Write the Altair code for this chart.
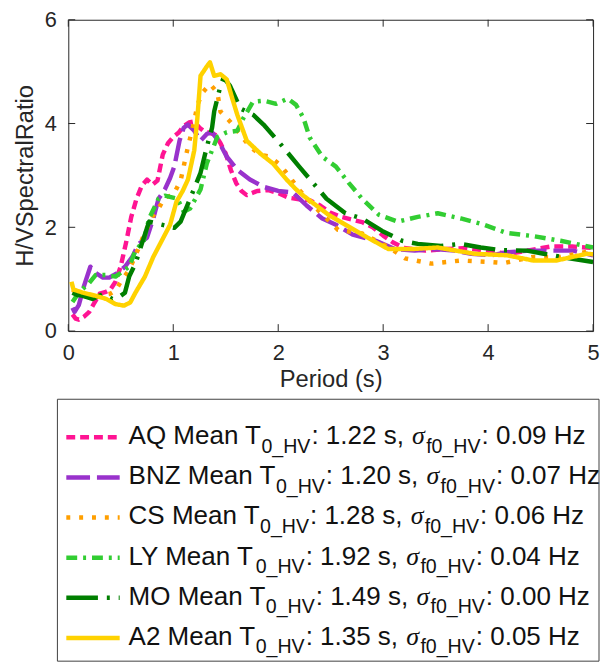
import altair as alt
import pandas as pd

# ---------------- data ----------------
names = ["AQ", "BNZ", "CS", "LY", "MO", "A2"]
colors = ["#FF1493", "#9932CC", "#FF9F00", "#32CD32", "#007F00", "#FFD200"]
dashes = [[9, 5], [24, 7], [4, 9], [11, 6, 3, 6], [32, 9, 3, 9], [1, 0]]
mean_t0 = ["1.22", "1.20", "1.28", "1.92", "1.49", "1.35"]
sigma_f0 = ["0.09", "0.07", "0.06", "0.04", "0.00", "0.05"]

x_ticks = [0, 1, 2, 3, 4, 5]
y_ticks = [0, 2, 4, 6]

aq_period = [0.04, 0.07, 0.1, 0.15, 0.2, 0.25, 0.3, 0.35, 0.4, 0.45, 0.5, 0.55, 0.6, 0.65, 0.7,
             0.75, 0.8, 0.85, 0.9, 0.95, 1.0, 1.05, 1.1, 1.15, 1.2, 1.25, 1.3, 1.35, 1.4, 1.45,
             1.5, 1.55, 1.6, 1.65, 1.7, 1.8, 1.9, 2.0, 2.1, 2.2, 2.3, 2.4, 2.5, 2.6, 2.7, 2.8,
             2.9, 3.0, 3.1, 3.2, 3.4, 3.6, 3.8, 4.0, 4.2, 4.4, 4.6, 4.8, 5.0]
aq_hv = [0.32, 0.24, 0.22, 0.28, 0.37, 0.55, 0.72, 0.75, 0.8, 0.95, 1.25, 1.7, 2.2, 2.55, 2.8,
         2.92, 2.82, 2.9, 3.4, 3.62, 3.74, 3.82, 3.95, 4.02, 4.04, 3.92, 3.84, 3.82, 3.78, 3.62,
         3.42, 3.1, 2.85, 2.7, 2.62, 2.7, 2.72, 2.66, 2.57, 2.54, 2.52, 2.42, 2.28, 2.2, 2.15, 2.1,
         2.0, 1.84, 1.7, 1.6, 1.55, 1.58, 1.6, 1.54, 1.49, 1.56, 1.63, 1.63, 1.6]

bnz_period = [0.04, 0.06, 0.1, 0.15, 0.21, 0.26, 0.33, 0.39, 0.47, 0.54, 0.61, 0.67, 0.75, 0.81,
              0.86, 0.92, 0.97, 1.01, 1.06, 1.1, 1.14, 1.2, 1.26, 1.32, 1.37, 1.43, 1.51, 1.61,
              1.73, 1.86, 2.0, 2.14, 2.27, 2.42, 2.55, 2.71, 2.93, 3.11, 3.3, 3.49, 3.68, 3.84,
              4.03, 4.18, 4.4, 4.65, 4.81, 5.0]
bnz_hv = [0.45, 0.37, 0.5, 0.87, 1.24, 1.12, 1.03, 1.03, 1.12, 1.24, 1.43, 1.68, 1.8, 2.17,
          2.55, 2.73, 2.95, 3.17, 3.67, 3.92, 3.98, 3.86, 3.67, 3.8, 3.83, 3.67, 3.36, 3.11,
          2.92, 2.78, 2.7, 2.67, 2.42, 2.17, 2.05, 1.86, 1.74, 1.58, 1.55, 1.58, 1.55, 1.49,
          1.46, 1.52, 1.55, 1.55, 1.55, 1.46]

cs_period = [0.04, 0.1, 0.2, 0.3, 0.4, 0.45, 0.5, 0.58, 0.65, 0.72, 0.8, 0.86, 0.92, 1.0, 1.07,
             1.14, 1.2, 1.23, 1.28, 1.35, 1.42, 1.45, 1.54, 1.64, 1.73, 1.83, 1.92, 2.02, 2.11,
             2.2, 2.28, 2.38, 2.57, 2.8, 3.05, 3.21, 3.46, 3.74, 4.03, 4.15, 4.43, 4.69, 5.0]
cs_hv = [0.8, 0.7, 0.65, 0.68, 0.72, 0.78, 0.95, 1.18, 1.5, 1.85, 2.2, 2.36, 2.58, 2.62, 2.9,
         3.55, 4.04, 4.36, 4.6, 4.76, 4.6, 4.23, 4.04, 3.79, 3.55, 3.4, 3.36, 3.2, 2.97,
         2.72, 2.55, 2.33, 1.95, 1.88, 1.62, 1.4, 1.3, 1.36, 1.33, 1.31, 1.43, 1.43, 1.55]

ly_period = [0.04, 0.1, 0.2, 0.26, 0.36, 0.45, 0.58, 0.64, 0.72, 0.77, 0.86, 0.92, 1.04, 1.1,
             1.16, 1.26, 1.32, 1.42, 1.51, 1.61, 1.67, 1.76, 1.86, 1.98, 2.09, 2.17, 2.24, 2.3,
             2.42, 2.55, 2.67, 2.8, 2.96, 3.14, 3.33, 3.52, 3.74, 3.96, 4.18, 4.43, 4.69, 5.0]
ly_hv = [0.56, 0.74, 0.93, 1.08, 1.08, 1.05, 1.24, 1.55, 1.74, 2.17, 2.55, 2.61, 2.55, 2.3,
         2.36, 2.73, 3.23, 3.74, 3.83, 3.86, 4.11, 4.42, 4.44, 4.38, 4.48, 4.36, 4.11, 3.73,
         3.36, 3.17, 2.86, 2.55, 2.24, 2.11, 2.2, 2.27, 2.17, 2.05, 1.89, 1.83, 1.74, 1.61]

mo_period = [0.04, 0.08, 0.14, 0.23, 0.33, 0.42, 0.48, 0.54, 0.58, 0.64, 0.7, 0.77, 0.89, 1.01,
             1.07, 1.16, 1.26, 1.32, 1.37, 1.39, 1.45, 1.48, 1.54, 1.64, 1.76, 1.86, 2.02, 2.2,
             2.33, 2.46, 2.64, 2.8, 2.99, 3.18, 3.33, 3.55, 3.74, 3.93, 4.12, 4.37, 4.53, 4.69, 5.0]
mo_hv = [0.74, 0.7, 0.68, 0.62, 0.71, 0.62, 0.65, 0.74, 1.05, 1.3, 1.68, 2.11, 2.05, 1.99,
         2.11, 2.55, 3.05, 3.55, 3.92, 4.23, 4.73, 4.88, 4.73, 4.29, 4.17, 3.98, 3.61, 3.17,
         2.86, 2.55, 2.27, 2.17, 1.93, 1.74, 1.68, 1.64, 1.68, 1.61, 1.56, 1.55, 1.49, 1.43, 1.33]

a2_period = [0.03, 0.05, 0.08, 0.14, 0.26, 0.36, 0.45, 0.53, 0.59, 0.64, 0.73, 0.81, 0.89, 0.97,
             1.03, 1.09, 1.14, 1.2, 1.23, 1.26, 1.32, 1.35, 1.39, 1.45, 1.51, 1.56, 1.61, 1.7,
             1.83, 1.95, 2.08, 2.17, 2.24, 2.48, 2.8, 3.05, 3.27, 3.52, 3.87, 4.18, 4.43, 4.65,
             4.94, 5.0]
a2_hv = [0.95, 0.8, 0.78, 0.74, 0.68, 0.62, 0.52, 0.49, 0.55, 0.74, 1.05, 1.43, 1.74, 2.05,
         2.49, 2.7, 2.92, 3.48, 4.11, 4.92, 5.1, 5.18, 4.92, 4.95, 4.85, 4.5, 4.17, 3.67,
         3.42, 3.23, 2.92, 2.73, 2.61, 2.24, 1.86, 1.58, 1.58, 1.61, 1.49, 1.46, 1.36, 1.36,
         1.49, 1.48]

periods = [aq_period, bnz_period, cs_period, ly_period, mo_period, a2_period]
values = [aq_hv, bnz_hv, cs_hv, ly_hv, mo_hv, a2_hv]

# ---------------- style ----------------
FONT = "Liberation Sans"
AX = "#262626"
W, H = 531, 315
TICK = 7

xscale = alt.Scale(domain=[0, 5], nice=False, zero=False)
yscale = alt.Scale(domain=[0, 6], nice=False, zero=False)
xaxis = alt.Axis(values=x_ticks, ticks=False, grid=False, domain=False, labelFontSize=22,
                 labelFont=FONT, labelColor=AX, labelPadding=12, labelFlush=False,
                 title="Period (s)", titleFont=FONT, titleFontSize=24, titleFontWeight="normal",
                 titleColor=AX, titlePadding=4)
yaxis = alt.Axis(values=y_ticks, ticks=False, grid=False, domain=False, labelFontSize=22,
                 labelFont=FONT, labelColor=AX, labelPadding=12, labelFlush=False,
                 title="H/VSpectralRatio", titleFont=FONT, titleFontSize=24,
                 titleFontWeight="normal", titleColor=AX, titlePadding=7)

layers = []
for i, name in enumerate(names):
    df = pd.DataFrame({"Period": periods[i], "HV": values[i], "Site": name})
    layers.append(
        alt.Chart(df).mark_line(color=colors[i], strokeDash=dashes[i], strokeWidth=4.5,
                                clip=True, strokeCap="butt", strokeJoin="round")
        .encode(x=alt.X("Period:Q", scale=xscale, axis=xaxis),
                y=alt.Y("HV:Q", scale=yscale, axis=yaxis))
    )

xt = pd.DataFrame({"t": x_ticks})
yt = pd.DataFrame({"v": y_ticks})
tick_layers = [
    alt.Chart(xt).mark_rule(color=AX, strokeWidth=1).encode(
        x=alt.X("t:Q", scale=xscale, axis=xaxis), y=alt.value(H), y2=alt.value(H - TICK)),
    alt.Chart(xt).mark_rule(color=AX, strokeWidth=1).encode(
        x=alt.X("t:Q", scale=xscale, axis=xaxis), y=alt.value(0), y2=alt.value(TICK)),
    alt.Chart(yt).mark_rule(color=AX, strokeWidth=1).encode(
        y=alt.Y("v:Q", scale=yscale, axis=yaxis), x=alt.value(0), x2=alt.value(TICK)),
    alt.Chart(yt).mark_rule(color=AX, strokeWidth=1).encode(
        y=alt.Y("v:Q", scale=yscale, axis=yaxis), x=alt.value(W), x2=alt.value(W - TICK)),
]

plot = alt.layer(*layers, *tick_layers).properties(
    width=W, height=H, view=alt.ViewBackground(stroke=AX, strokeWidth=1))

# ---------------- legend panel ----------------
LW, LH = 537, 265
MAIN, SUB = 26.3, 19.8
ROW0, ROWSTEP = 45.5, 40.6
TEXT_X = 61
SUB_DY = 8.5

ARIAL = {" ": 278, ":": 278, ",": 278, ".": 278, "_": 556, "A": 667, "B": 667, "C": 722,
         "H": 722, "L": 556, "M": 833, "N": 722, "O": 778, "Q": 778, "S": 667, "T": 611,
         "V": 667, "Y": 667, "Z": 611, "a": 556, "e": 556, "f": 278, "n": 556, "s": 500,
         "z": 500}


def text_width(s, size):
    return sum(ARIAL.get(c, 556) for c in s) * size / 1000.0


frag_rows = []
sample_rows = []
for i, name in enumerate(names):
    base = ROW0 + i * ROWSTEP
    pieces = [(f"{name} Mean T", "main"), ("0_HV", "sub"),
              (f": {mean_t0[i]} s, ", "main"), ("σ", "sig"), ("f0_HV", "sub"),
              (f": {sigma_f0[i]} Hz", "main")]
    x = TEXT_X
    for txt, kind in pieces:
        if kind == "main":
            frag_rows.append({"x": x, "y": base, "text": txt, "kind": kind})
            x += text_width(txt, MAIN)
        elif kind == "sub":
            frag_rows.append({"x": x, "y": base + SUB_DY, "text": txt, "kind": kind})
            x += text_width(txt, SUB) + 1
        else:
            frag_rows.append({"x": x + 1, "y": base, "text": txt, "kind": kind})
            x += 0.58 * MAIN
    sample_rows.append({"y": base - 7, "Site": name})

frags = pd.DataFrame(frag_rows)
samples = pd.DataFrame(sample_rows)

frame = alt.Chart(pd.DataFrame({"a": [0]})).mark_rect(
    fillOpacity=0, stroke="#404040", strokeWidth=1).encode(
    x=alt.value(-11), x2=alt.value(LW), y=alt.value(0), y2=alt.value(LH))

leg_layers = [frame]
for i, name in enumerate(names):
    leg_layers.append(
        alt.Chart(samples[samples.Site == name]).mark_rule(
            color=colors[i], strokeDash=dashes[i], strokeWidth=4.5, strokeCap="butt")
        .encode(x=alt.value(-2), x2=alt.value(52), y=alt.Y("y:Q", scale=None, axis=None))
    )

for kind, size, font, style in [("main", MAIN, FONT, "normal"), ("sub", SUB, FONT, "normal"),
                                ("sig", MAIN, "Liberation Serif", "italic")]:
    leg_layers.append(
        alt.Chart(frags[frags.kind == kind]).mark_text(
            align="left", baseline="alphabetic", fontSize=size, font=font,
            fontStyle=style, color="#111111")
        .encode(x=alt.X("x:Q", scale=None, axis=None), y=alt.Y("y:Q", scale=None, axis=None),
                text="text:N")
    )

legend_panel = alt.layer(*leg_layers).properties(
    width=LW, height=LH, view=alt.ViewBackground(strokeOpacity=0))

chart = alt.vconcat(plot, legend_panel, spacing=6).properties(
    padding={"left": 5, "top": -4, "right": 0, "bottom": 0}
).configure(font=FONT, background="white")

chart.save("out.html", embed_options={"renderer": "svg", "actions": False})
